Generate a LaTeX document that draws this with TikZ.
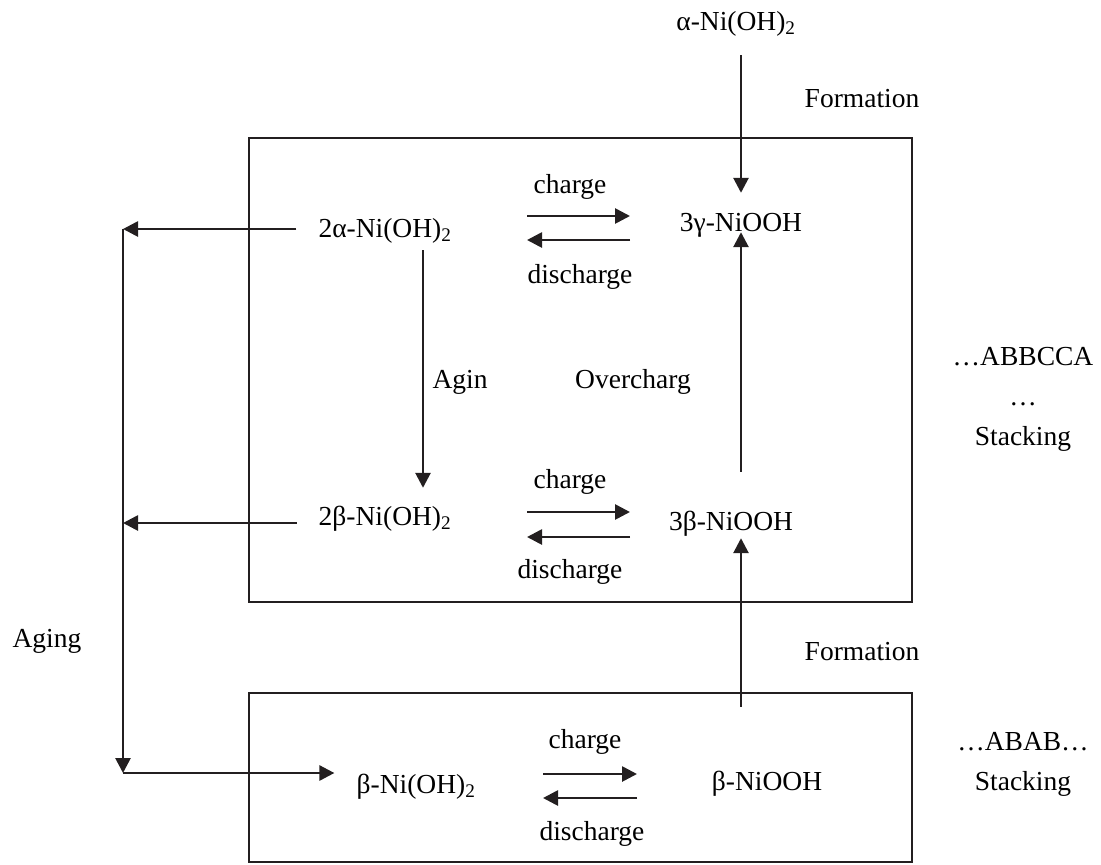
\documentclass[tikz,border=0pt]{standalone}
\usepackage{fontspec}
\setmainfont{Liberation Serif}
\usetikzlibrary{arrows.meta}
\definecolor{inkdark}{RGB}{35,31,32}

\begin{document}
\begin{tikzpicture}[
  x=1pt, y=-1pt,
  chem/.style={inner sep=0pt, anchor=base, text height=19pt, text depth=6pt,
               font=\fontsize{27.5}{33}\selectfont},
  note/.style={inner sep=0pt, anchor=base, font=\fontsize{27.5}{33}\selectfont},
  stage/.style={draw=inkdark, line width=1.9pt},
  rxn/.style={-{Triangle[length=15pt, width=15pt]}, line width=2.7pt, inkdark},
]
  \useasboundingbox (0,0) rectangle (1101,865);

  % Boxes
  \draw[stage] (249,138) rectangle (912,602);
  \draw[stage] (249,693) rectangle (912,862);

  % Species
  \node[chem] (topa) at (736,30) {α-Ni(OH)\textsubscript{2}};
  \node[chem] (a2) at (385,237) {2α-Ni(OH)\textsubscript{2}};
  \node[chem] (g3) at (741,231) {3γ-NiOOH};
  \node[chem] (b2) at (385,525) {2β-Ni(OH)\textsubscript{2}};
  \node[chem] (b3) at (731,530) {3β-NiOOH};
  \node[chem] (bo) at (416,793) {β-Ni(OH)\textsubscript{2}};
  \node[chem] (bn) at (767,790) {β-NiOOH};

  % Labels
  \node[note] (form1) at (862,107) {Formation};
  \node[note] (form2) at (862,660) {Formation};
  \node[note] (agin) at (460,388) {Agin};
  \node[note] (overch) at (633,388) {Overcharg};
  \node[note] (aging) at (47,647) {Aging};
  \node[note] (ch1) at (570,193) {charge};
  \node[note] (dc1) at (580,283) {discharge};
  \node[note] (ch2) at (570,488) {charge};
  \node[note] (dc2) at (570,578) {discharge};
  \node[note] (ch3) at (585,748) {charge};
  \node[note] (dc3) at (592,840) {discharge};
  \node[note] (stk1) at (1023,365) {…ABBCCA};
  \node[note] (dots1) at (1023,405) {…};
  \node[note] (stk1b) at (1023,445) {Stacking};
  \node[note] (stk2) at (1023,750) {…ABAB…};
  \node[note] (stk2b) at (1023,790) {Stacking};

  % Arrow ends
  \coordinate (f1a) at (527,216); \coordinate (f1b) at (630,216);
  \coordinate (r1a) at (630,240); \coordinate (r1b) at (527,240);
  \coordinate (f2a) at (527,512); \coordinate (f2b) at (630,512);
  \coordinate (r2a) at (630,537); \coordinate (r2b) at (527,537);
  \coordinate (f3a) at (543,774); \coordinate (f3b) at (637,774);
  \coordinate (r3a) at (637,798); \coordinate (r3b) at (543,798);
  \coordinate (busA) at (123,229);
  \coordinate (busB) at (123,523);
  \coordinate (busC) at (123,773);

  % Edges
  \draw[rxn, shorten <=19pt, shorten >=19pt] (topa.south -| g3) -- (g3.north);
  \draw[rxn, shorten <=39pt, shorten >=-5pt] (b3.north -| g3) -- (g3.south);
  \draw[rxn, shorten <=64pt, shorten >=2pt] (bn.north -| g3) -- (b3.south -| g3);
  \draw[rxn, shorten <=7pt, shorten >=18pt] ([xshift=38pt]a2.south) -- ([xshift=38pt]b2.north);
  \draw[rxn, shorten <=22pt] (a2.west |- busA) -- (busA);
  \draw[rxn, shorten <=22pt] (b2.west |- busB) -- (busB);
  \draw[rxn] (busA) -- (busC);
  \draw[rxn, shorten >=22pt] (busC) -- (bo.west |- busC);
  \draw[rxn] (f1a) -- (f1b);
  \draw[rxn] (r1a) -- (r1b);
  \draw[rxn] (f2a) -- (f2b);
  \draw[rxn] (r2a) -- (r2b);
  \draw[rxn] (f3a) -- (f3b);
  \draw[rxn] (r3a) -- (r3b);
\end{tikzpicture}
\end{document}
